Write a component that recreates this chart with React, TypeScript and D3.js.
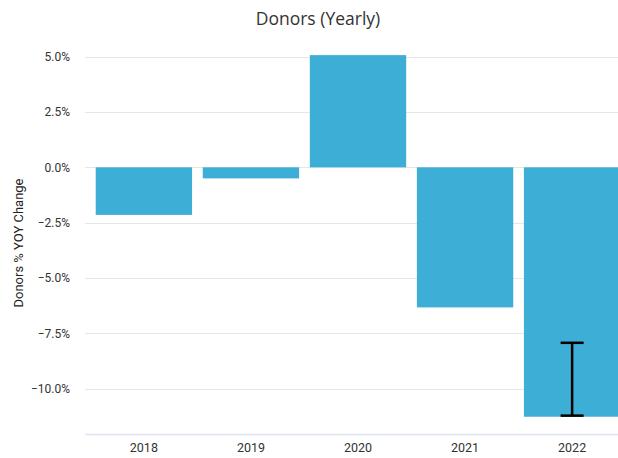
import { useEffect, useRef } from "react";
import * as d3 from "d3";

const years = ["2018", "2019", "2020", "2021", "2022"];
const yoyChange = [-2.15, -0.5, 5.07, -6.33, -11.27];
// error bar only drawn for the last year
const errorYears = ["2022"];
const errorLow = [-11.22];
const errorHigh = [-7.93];
const yTicks = [-10, -7.5, -5, -2.5, 0, 2.5, 5];

export default function App() {
  const svgRef = useRef<SVGSVGElement>(null);

  useEffect(() => {
    const svg = d3.select(svgRef.current);
    svg.selectAll("*").remove();

    const width = 618;
    const height = 458;
    const left = 85;
    const right = 631; // plot runs past the window edge, like the reference
    const top = 45.6;
    const bottom = 434;
    const font = "Roboto, 'Noto Sans', sans-serif";

    svg.attr("width", width).attr("height", height);

    const x = d3.scaleBand().domain(years).range([left, right]).paddingInner(0.1).paddingOuter(0.1);
    const y = d3.scaleLinear().domain([-12.05, 5.5]).range([bottom, top]);

    // gridlines
    svg.append("g")
      .selectAll("line")
      .data(yTicks)
      .join("line")
      .attr("x1", left)
      .attr("x2", right)
      .attr("y1", d => Math.round(y(d)) + 0.5)
      .attr("y2", d => Math.round(y(d)) + 0.5)
      .attr("stroke", "#e6e6e6")
      .attr("stroke-width", 1);

    // y tick labels
    svg.append("g")
      .selectAll("text")
      .data(yTicks)
      .join("text")
      .attr("x", 70)
      .attr("y", d => y(d))
      .attr("dy", "0.35em")
      .attr("text-anchor", "end")
      .attr("font-family", font)
      .attr("font-size", 12)
      .attr("fill", "#333")
      .text(d => d3.format(".1f")(d) + "%");

    // bars
    svg.append("g")
      .selectAll("rect")
      .data(years)
      .join("rect")
      .attr("x", d => x(d)!)
      .attr("width", x.bandwidth())
      .attr("y", (d, i) => y(Math.max(0, yoyChange[i])))
      .attr("height", (d, i) => Math.abs(y(yoyChange[i]) - y(0)))
      .attr("fill", "#3daed6");

    // bottom axis line
    svg.append("line")
      .attr("x1", left)
      .attr("x2", right)
      .attr("y1", bottom + 0.5)
      .attr("y2", bottom + 0.5)
      .attr("stroke", "#dde3ef")
      .attr("stroke-width", 1.5);

    // x labels
    svg.append("g")
      .selectAll("text")
      .data(years)
      .join("text")
      .attr("x", d => x(d)! + x.bandwidth() / 2)
      .attr("y", 452)
      .attr("text-anchor", "middle")
      .attr("font-family", font)
      .attr("font-size", 12.5)
      .attr("fill", "#333")
      .text(d => d);

    // error bars
    const capHalf = 11.5;
    const err = svg.append("g").attr("stroke", "#000").attr("stroke-width", 2.5);
    errorYears.forEach((yr, i) => {
      const cx = x(yr)! + x.bandwidth() / 2;
      err.append("line").attr("x1", cx).attr("x2", cx).attr("y1", y(errorHigh[i])).attr("y2", y(errorLow[i]));
      err.append("line").attr("x1", cx - capHalf).attr("x2", cx + capHalf).attr("y1", y(errorHigh[i])).attr("y2", y(errorHigh[i]));
      err.append("line").attr("x1", cx - capHalf).attr("x2", cx + capHalf).attr("y1", y(errorLow[i])).attr("y2", y(errorLow[i]));
    });

    // y axis title
    svg.append("text")
      .attr("transform", `translate(23,243) rotate(-90)`)
      .attr("text-anchor", "middle")
      .attr("font-family", font)
      .attr("font-size", 13)
      .attr("fill", "#222")
      .text("Donors % YOY Change");

    // title
    svg.append("text")
      .attr("x", 318)
      .attr("y", 25)
      .attr("text-anchor", "middle")
      .attr("font-family", "'Open Sans', Roboto, sans-serif")
      .attr("font-size", 17.5)
      .attr("fill", "#333")
      .text("Donors (Yearly)");
  }, []);

  return <svg ref={svgRef} style={{ position: "absolute", left: 0, top: 0 }}></svg>;
}
